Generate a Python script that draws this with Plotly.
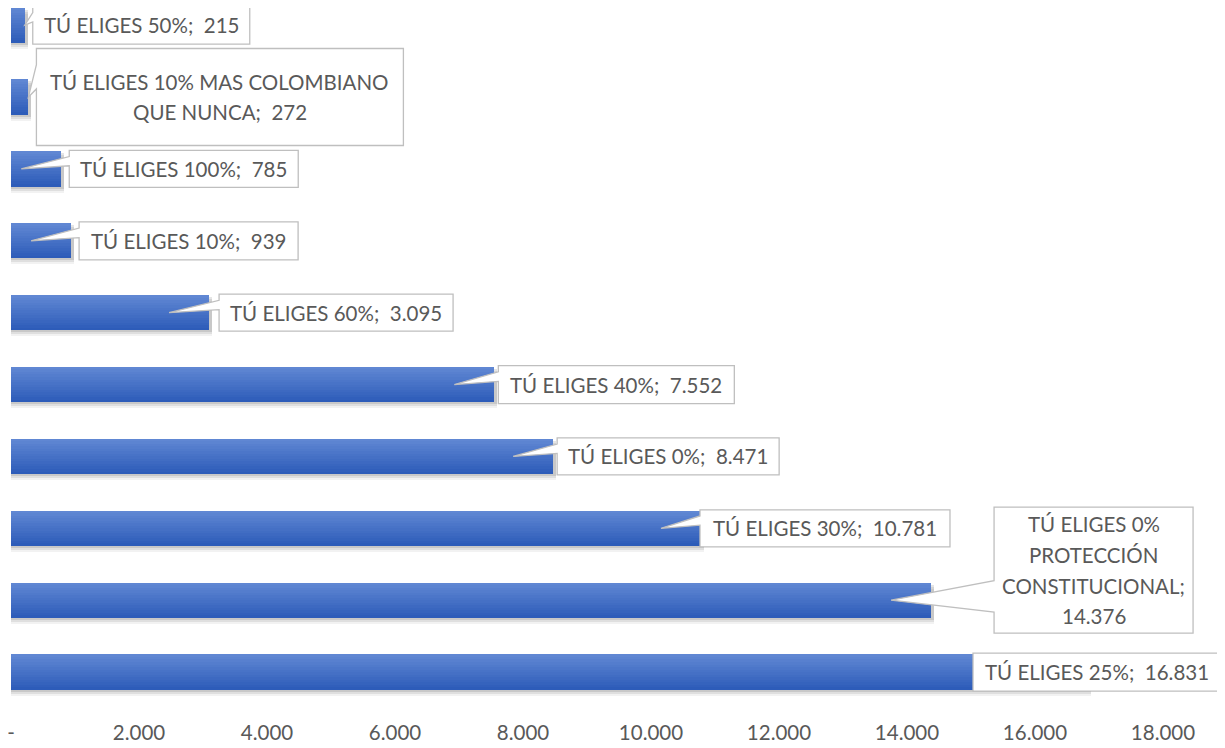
import plotly.graph_objects as go

# ---------------- data ----------------
categories = [
    "TÚ ELIGES 25%",
    "TÚ ELIGES 0% PROTECCIÓN CONSTITUCIONAL",
    "TÚ ELIGES 30%",
    "TÚ ELIGES 0%",
    "TÚ ELIGES 40%",
    "TÚ ELIGES 60%",
    "TÚ ELIGES 10%",
    "TÚ ELIGES 100%",
    "TÚ ELIGES 10% MAS COLOMBIANO QUE NUNCA",
    "TÚ ELIGES 50%",
]
values = [16831, 14376, 10781, 8471, 7552, 3095, 939, 785, 272, 215]
tick_vals = [0, 2000, 4000, 6000, 8000, 10000, 12000, 14000, 16000, 18000]
tick_text = ["-", "2.000", "4.000", "6.000", "8.000", "10.000",
             "12.000", "14.000", "16.000", "18.000"]

# ---------------- layout constants (pixels) ----------------
PAGE_W, PAGE_H = 1225, 748
OFF = 8                     # default page body margin
W, H = PAGE_W - OFF, PAGE_H - OFF
ML, MT = 3, 0
PW, PH = 1152, 700
XMAX = 18000
PX_PER_UNIT = 71.88
YMIN = -0.5
YMAX = YMIN + PH / PX_PER_UNIT
BAR_W = 0.49

FONT = "Lato"
FSIZE = 20.5
LINE_H = 30.8
TXT = "#595959"
BORDER = "#bfbfbf"

# label box styling: (dx from bar end px, width px, height px, shift up px, wrap chars)
label_style = [
    (-115, 248, 38, 0, 60),
    (63, 199, 126, 30, 16),
    (-1, 250, 37, 0, 60),
    (4, 222, 37, 0, 60),
    (4, 236, 38, 0, 60),
    (10, 234, 37, 0, 60),
    (8, 219, 38, 0, 60),
    (8, 229, 37, 0, 60),
    (8, 367, 97, 0, 28),
    (8, 217, 38, 0, 60),
]


# page-pixel helpers
def x2px(v):
    return OFF + ML + v / XMAX * PW


def y2py(y):
    return OFF + MT + (YMAX - y) / (YMAX - YMIN) * PH


def px2paper(p):
    return (p - OFF - ML) / PW


def py2paper(p):
    return 1 - (p - OFF - MT) / PH


def fmt(v):
    return f"{v:,}".replace(",", ".")


def wrap(name, val, width):
    words = name.split(" ")
    words[-1] += ";"
    words.append("\u00a0" + fmt(val))
    lines, cur = [], ""
    for w in words:
        cand = w if not cur else cur + " " + w
        if len(cand) <= width or not cur:
            cur = cand
        else:
            lines.append(cur)
            cur = w
    lines.append(cur)
    return [l.strip() for l in lines]


ypos = list(range(len(values)))
unit_per_px_y = (YMAX - YMIN) / PH
unit_per_px_x = XMAX / PW

fig = go.Figure()

# soft shadow under the bars
for dy, a in [(6, 0.05), (4, 0.08), (2, 0.10)]:
    fig.add_trace(go.Bar(
        x=[v + 3 * unit_per_px_x for v in values], y=ypos, orientation="h",
        width=BAR_W, offset=-BAR_W / 2 - dy * unit_per_px_y,
        marker=dict(color=f"rgba(0,0,0,{a})", line=dict(width=0)),
        hoverinfo="skip", showlegend=False))

# gradient bars (light top -> dark bottom)
top_c = (96, 135, 211)
bot_c = (45, 92, 185)
N = 14
for k in range(N):
    t = k / (N - 1)
    c = tuple(round(top_c[i] + (bot_c[i] - top_c[i]) * t) for i in range(3))
    h = BAR_W * (1 - k / N)
    fig.add_trace(go.Bar(
        x=values, y=ypos, orientation="h",
        width=h, offset=-BAR_W / 2,
        marker=dict(color=f"rgb{c}", line=dict(width=0)),
        hoverinfo="skip", showlegend=False))

shapes = []
annotations = []
for i, (name, val) in enumerate(zip(categories, values)):
    dx, bw, bh, up, wchars = label_style[i]
    end_px = x2px(val)
    cy = y2py(i)
    left = min(end_px + dx, PAGE_W - 4 - bw)
    right = left + bw
    bcy = cy - up
    top = bcy - bh / 2
    bot = bcy + bh / 2
    tip_x = end_px - 40 if end_px - 40 > OFF + ML + 5 else end_px
    tip_y = cy
    if tip_x < left:
        if tip_y > bcy + bh / 6:
            b1, b2 = top + bh * 7 / 12, top + bh * 10 / 12
        else:
            b1, b2 = top + bh * 2 / 12, top + bh * 5 / 12
        pts = [(left, top), (right, top), (right, bot), (left, bot),
               (left, b2), (tip_x, tip_y), (left, b1)]
    else:
        pts = [(left, top), (right, top), (right, bot), (left, bot)]
    path = "M " + " L ".join(f"{px2paper(px):.5f},{py2paper(py):.5f}" for px, py in pts) + " Z"
    shapes.append(dict(type="path", path=path, xref="paper", yref="paper",
                       fillcolor="white", line=dict(color=BORDER, width=1.3),
                       layer="above"))
    lines = wrap(name, val, wchars)
    n = len(lines)
    for j, line in enumerate(lines):
        ly = bcy + (j - (n - 1) / 2) * LINE_H
        annotations.append(dict(
            x=px2paper((left + right) / 2), y=py2paper(ly), xref="paper", yref="paper",
            text=line, showarrow=False,
            xanchor="center", yanchor="middle", align="center",
            font=dict(family=FONT, size=FSIZE, color=TXT)))

fig.update_layout(
    width=W, height=H,
    margin=dict(l=ML, r=W - ML - PW, t=MT, b=H - MT - PH),
    plot_bgcolor="white", paper_bgcolor="white",
    barmode="overlay", bargap=0,
    shapes=shapes, annotations=annotations,
    xaxis=dict(range=[0, XMAX], tickvals=tick_vals, ticktext=tick_text,
               showgrid=False, zeroline=False, showline=False, ticks="",
               ticklabelstandoff=10, ticklabeloverflow="allow",
               tickfont=dict(family=FONT, size=FSIZE, color=TXT), fixedrange=True),
    yaxis=dict(range=[YMIN, YMAX], showticklabels=False, showgrid=False,
               zeroline=False, showline=False, ticks="", fixedrange=True),
    showlegend=False,
)

fig.write_html("out.html")
